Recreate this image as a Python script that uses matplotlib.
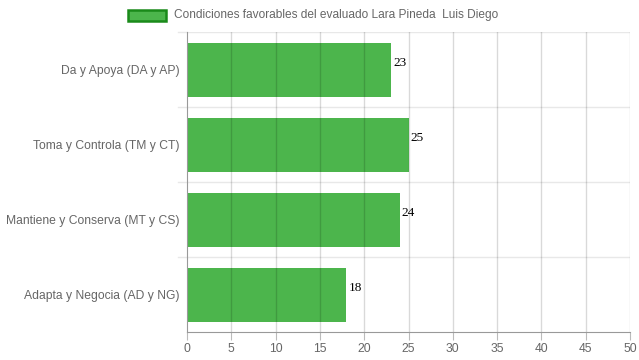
import matplotlib.pyplot as plt
from matplotlib.patches import Rectangle

categories = ['Da y Apoya (DA y AP)', 'Toma y Controla (TM y CT)',
              'Mantiene y Conserva (MT y CS)', 'Adapta y Negocia (AD y NG)']
values = [23, 25, 24, 18]
legend_label = 'Condiciones favorables del evaluado Lara Pineda  Luis Diego'
x_ticks = list(range(0, 51, 5))

bar_color = '#4cb54c'

plt.rcParams['font.family'] = ['Liberation Sans', 'DejaVu Sans']

fig = plt.figure(figsize=(6.39, 3.6), dpi=100)
ax = fig.add_axes([187 / 639, 1 - 332 / 360, (630 - 187) / 639, (332 - 32) / 360])

pos = list(range(len(categories)))
ax.barh(pos, values, height=0.72, color=bar_color, edgecolor='none', zorder=2)

ax.set_xlim(0, 50)
ax.set_ylim(len(categories) - 0.5, -0.5)
ax.set_xticks(x_ticks)
ax.set_xticklabels([str(t) for t in x_ticks])
ax.set_yticks(pos)
ax.set_yticklabels(categories)

# grid lines (vertical darker, horizontal very light at category boundaries)
for t in x_ticks[1:]:
    ax.axvline(t, color='#000000', alpha=0.15, linewidth=1, zorder=3)
for b in [i - 0.5 for i in range(len(categories) + 1)][:-1]:
    ax.axhline(b, color='#e8e8e8', linewidth=1, zorder=1)
    ax.plot([-0.02, 0], [b, b], transform=ax.get_yaxis_transform(),
            color='#e8e8e8', linewidth=1, clip_on=False)

for s in ['top', 'right']:
    ax.spines[s].set_visible(False)
ax.spines['left'].set_color('#999999')
ax.spines['bottom'].set_color('#999999')
ax.tick_params(axis='x', colors='#666666', labelsize=8.7, length=6, color='#bbbbbb', pad=2)
ax.tick_params(axis='y', colors='#666666', labelsize=8.7, length=0, pad=5.5)

for p, v in zip(pos, values):
    ax.text(v + 0.25, p - 0.09, str(v), family='Liberation Serif', fontsize=9.5,
            color='black', va='center', ha='left', zorder=4)

# legend
fig.patches.append(Rectangle((128 / 639, 1 - 21 / 360), 38 / 639, 11 / 360,
                             transform=fig.transFigure, facecolor=bar_color,
                             edgecolor='#1a8a1a', linewidth=1.8))
fig.text(174 / 639, 1 - 15 / 360, legend_label, color='#666666', fontsize=8.6,
         va='center', ha='left')

fig.savefig('out.png', dpi=100)
